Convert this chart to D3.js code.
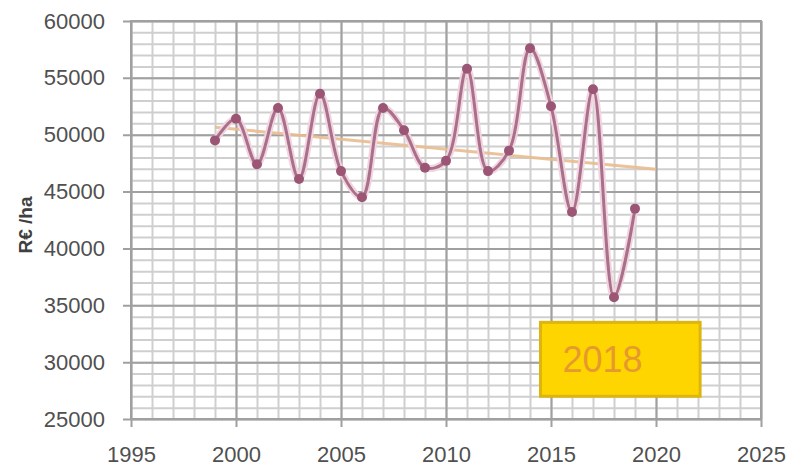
<!DOCTYPE html>
<html>
<head>
<meta charset="utf-8">
<script src="https://cdn.jsdelivr.net/npm/d3@7"></script>
<style>
  html, body { margin: 0; padding: 0; background: #fff; }
  svg { display: block; }
</style>
</head>
<body>
<svg id="chart" width="789" height="467"></svg>
<script>
// Yearly revenue per hectare
const years  = [1999, 2000, 2001, 2002, 2003, 2004, 2005, 2006, 2007, 2008, 2009,
                2010, 2011, 2012, 2013, 2014, 2015, 2016, 2017, 2018, 2019];
const values = [49500, 51400, 47400, 52350, 46100, 53600, 46800, 44500, 52350, 50400, 47100,
                47700, 55800, 46800, 48600, 57600, 52500, 43200, 54000, 35700, 43500];

const xTicks = [1995, 2000, 2005, 2010, 2015, 2020, 2025];
const yTicks = [25000, 30000, 35000, 40000, 45000, 50000, 55000, 60000];
const yLabel = "R€ /ha";
const highlightLabel = "2018";
const trendEndYear = 2020;

const W = 789, H = 467;
const margin = { left: 131, right: 28, top: 21, bottom: 48 };
const w = W - margin.left - margin.right;
const h = H - margin.top - margin.bottom;

const svg = d3.select("#chart");
const g = svg.append("g").attr("transform", `translate(${margin.left},${margin.top})`);

const x = d3.scaleLinear().domain([1995, 2025]).range([0, w]);
const y = d3.scaleLinear().domain([25000, 60000]).range([h, 0]);

const font = "'Liberation Sans', Arial, sans-serif";

// minor grid: every year / every 1000
g.append("g")
  .call(d3.axisBottom(x).tickValues(d3.range(1995, 2026, 1)).tickSize(-h).tickFormat(""))
  .attr("transform", `translate(0,${h})`)
  .call(a => a.select(".domain").remove())
  .call(a => a.selectAll("line").attr("stroke", "#cfcfcf").attr("stroke-width", 2));
g.append("g")
  .call(d3.axisLeft(y).tickValues(d3.range(25000, 60001, 1000)).tickSize(-w).tickFormat(""))
  .call(a => a.select(".domain").remove())
  .call(a => a.selectAll("line").attr("stroke", "#cfcfcf").attr("stroke-width", 2));

// major grid + axes (ticks extend outside the plot)
const tickOut = 8;
g.append("g")
  .attr("transform", `translate(${-tickOut},0)`)
  .call(d3.axisLeft(y).tickValues(yTicks).tickSizeInner(-(w + tickOut)).tickSizeOuter(0)
        .tickPadding(18).tickFormat(d3.format("d")))
  .call(a => a.select(".domain").remove())
  .call(a => a.selectAll("line").attr("stroke", "#a0a0a0").attr("stroke-width", 2))
  .call(a => a.selectAll("text").attr("fill", "#505050").attr("font-family", font).attr("font-size", 22));

g.append("g")
  .attr("transform", `translate(0,${h + tickOut})`)
  .call(d3.axisBottom(x).tickValues(xTicks).tickSizeInner(-(h + tickOut)).tickSizeOuter(0)
        .tickPadding(19).tickFormat(d3.format("d")))
  .call(a => a.select(".domain").remove())
  .call(a => a.selectAll("line").attr("stroke", "#a0a0a0").attr("stroke-width", 2))
  .call(a => a.selectAll("text").attr("fill", "#505050").attr("font-family", font).attr("font-size", 22));

// plot border
g.append("rect")
  .attr("x", 0).attr("y", 0).attr("width", w).attr("height", h)
  .attr("fill", "none").attr("stroke", "#a0a0a0").attr("stroke-width", 2);

// linear trend line (least squares), extended to trendEndYear
const mx = d3.mean(years), my = d3.mean(values);
const slope = d3.sum(years, (v, i) => (v - mx) * (values[i] - my)) / d3.sum(years, v => (v - mx) * (v - mx));
const intercept = my - slope * mx;
const trendYears = [years[0], trendEndYear];
g.append("path")
  .datum(trendYears)
  .attr("fill", "none")
  .attr("stroke", "#e9bb8e")
  .attr("stroke-width", 3)
  .attr("stroke-opacity", 0.9)
  .attr("d", d3.line().x(d => x(d)).y(d => y(intercept + slope * d)));

// smoothed series line and markers
const data = years.map((yr, i) => ({ yr, v: values[i] }));
const smooth = d3.line().curve(d3.curveCatmullRom.alpha(0.5)).x(d => x(d.yr)).y(d => y(d.v));
g.append("path")
  .datum(data)
  .attr("fill", "none")
  .attr("stroke", "#f2d4df")
  .attr("stroke-width", 7)
  .attr("stroke-linejoin", "round")
  .attr("d", smooth);
g.append("path")
  .datum(data)
  .attr("fill", "none")
  .attr("stroke", "#a8708b")
  .attr("stroke-width", 3)
  .attr("stroke-linejoin", "round")
  .attr("d", smooth);
g.selectAll("circle.pt")
  .data(data)
  .join("circle")
  .attr("class", "pt")
  .attr("cx", d => x(d.yr))
  .attr("cy", d => y(d.v))
  .attr("r", 5)
  .attr("fill", "#9b5676");

// highlight box for the low year
const box = { x0: 2014.5, x1: 2022.1, y0: 33500, y1: 27000 };
g.append("rect")
  .attr("x", x(box.x0)).attr("y", y(box.y0))
  .attr("width", x(box.x1) - x(box.x0)).attr("height", y(box.y1) - y(box.y0))
  .attr("fill", "#ffd500").attr("stroke", "#dcb60e").attr("stroke-width", 3);
g.append("text")
  .attr("x", x(box.x0) + 22).attr("y", (y(box.y0) + y(box.y1)) / 2)
  .attr("dy", "0.36em")
  .attr("font-family", font).attr("font-size", 36)
  .attr("fill", "#e69a2e")
  .text(highlightLabel);

// y axis title
svg.append("text")
  .attr("transform", `translate(32,225) rotate(-90)`)
  .attr("text-anchor", "middle")
  .attr("font-family", font).attr("font-size", 19).attr("font-weight", "bold")
  .attr("fill", "#404040")
  .text(yLabel);
</script>
</body>
</html>
